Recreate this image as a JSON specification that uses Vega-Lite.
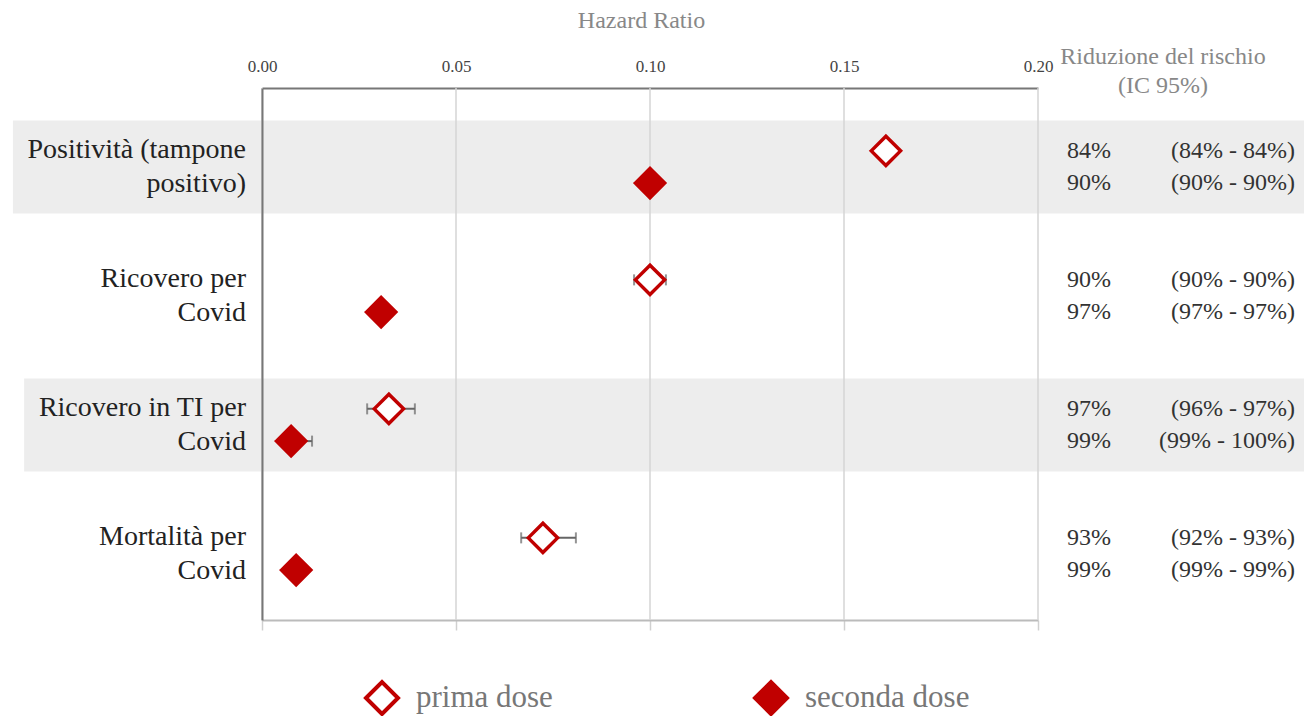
{
  "$schema": "https://vega.github.io/schema/vega-lite/v6.json",
  "width": 776,
  "height": 532,
  "autosize": {"type": "none"},
  "padding": {"left": 262, "top": 88, "right": 266, "bottom": 96},
  "config": {
    "view": {"stroke": null},
    "font": "Liberation Serif",
    "axisY": {"labels": false, "ticks": false, "grid": false, "domainColor": "#777777", "domainWidth": 2, "title": null}
  },
  "title": {
    "text": ["Riduzione del rischio", "(IC 95%)"],
    "anchor": "end",
    "align": "center",
    "frame": "group",
    "dx": 125,
    "dy": 94,
    "font": "Liberation Serif",
    "fontSize": 24,
    "fontWeight": "normal",
    "color": "#888888",
    "lineHeight": 29
  },
  "datasets": {
    "bands": [
      {"g": "A", "x0": -0.0642, "x1": 0.2686},
      {"g": "C", "x0": -0.0613, "x1": 0.2686}
    ],
    "grid": [{"v": 0}, {"v": 0.05}, {"v": 0.1}, {"v": 0.15}, {"v": 0.2}],
    "labels": [
      {"g": "A", "label": "Positività (tampone\npositivo)"},
      {"g": "B", "label": "Ricovero per\nCovid"},
      {"g": "C", "label": "Ricovero  in TI per\nCovid"},
      {"g": "D", "label": "Mortalità per\nCovid"}
    ],
    "points": [
      {"g": "A", "dose": "prima dose", "hr": 0.1608, "pct": "84%", "ci": "(84% - 84%)"},
      {"g": "A", "dose": "seconda dose", "hr": 0.1, "pct": "90%", "ci": "(90% - 90%)"},
      {"g": "B", "dose": "prima dose", "hr": 0.1, "pct": "90%", "ci": "(90% - 90%)"},
      {"g": "B", "dose": "seconda dose", "hr": 0.0307, "pct": "97%", "ci": "(97% - 97%)"},
      {"g": "C", "dose": "prima dose", "hr": 0.0327, "pct": "97%", "ci": "(96% - 97%)"},
      {"g": "C", "dose": "seconda dose", "hr": 0.0075, "pct": "99%", "ci": "(99% - 100%)"},
      {"g": "D", "dose": "prima dose", "hr": 0.0724, "pct": "93%", "ci": "(92% - 93%)"},
      {"g": "D", "dose": "seconda dose", "hr": 0.0088, "pct": "99%", "ci": "(99% - 99%)"}
    ],
    "err": [
      {"g": "B", "dose": "prima dose", "lo": 0.0959, "hi": 0.1041},
      {"g": "C", "dose": "prima dose", "lo": 0.0271, "hi": 0.0394},
      {"g": "C", "dose": "seconda dose", "lo": 0.0055, "hi": 0.0129},
      {"g": "D", "dose": "prima dose", "lo": 0.0668, "hi": 0.0809}
    ]
  },
  "resolve": {"axis": {"x": "independent"}},
  "layer": [
    {
      "data": {"name": "bands"},
      "mark": {"type": "rect", "color": "#ededed", "height": {"band": 0.72}},
      "encoding": {
        "x": {"field": "x0", "type": "quantitative", "scale": {"domain": [0, 0.2], "nice": false, "zero": false}, "axis": null},
        "x2": {"field": "x1"},
        "y": {"field": "g", "type": "nominal", "title": null, "scale": {"domain": ["A", "B", "C", "D"], "paddingInner": 0, "paddingOuter": 0.062, "align": 0.906}}
      }
    },
    {
      "data": {"name": "grid"},
      "mark": {"type": "rule", "color": "#d4d4d4", "strokeWidth": 1.5},
      "encoding": {
        "x": {"field": "v", "type": "quantitative", "axis": {"orient": "bottom", "labels": false, "title": null, "grid": false, "ticks": true, "tickSize": 10, "tickColor": "#d0d0d0", "tickWidth": 1.5, "domainColor": "#bbbbbb", "domainWidth": 2, "values": [0, 0.05, 0.1, 0.15, 0.2]}}
      }
    },
    {
      "data": {"name": "err"},
      "mark": {"type": "rule", "color": "#666666", "strokeWidth": 2},
      "encoding": {
        "x": {"field": "lo", "type": "quantitative", "axis": null},
        "x2": {"field": "hi"},
        "y": {"field": "g", "type": "nominal", "title": null},
        "yOffset": {"field": "dose", "type": "nominal", "scale": {"domain": ["prima dose", "seconda dose"], "paddingInner": 0, "paddingOuter": 1.016}}
      }
    },
    {
      "data": {"name": "err"},
      "mark": {"type": "tick", "orient": "vertical", "color": "#666666", "size": 11, "thickness": 2},
      "encoding": {
        "x": {"field": "lo", "type": "quantitative", "axis": null},
        "y": {"field": "g", "type": "nominal", "title": null},
        "yOffset": {"field": "dose", "type": "nominal"}
      }
    },
    {
      "data": {"name": "err"},
      "mark": {"type": "tick", "orient": "vertical", "color": "#666666", "size": 11, "thickness": 2},
      "encoding": {
        "x": {"field": "hi", "type": "quantitative", "axis": null},
        "y": {"field": "g", "type": "nominal", "title": null},
        "yOffset": {"field": "dose", "type": "nominal"}
      }
    },
    {
      "data": {"name": "points"},
      "mark": {"type": "point", "shape": "diamond", "size": 860, "filled": false, "stroke": "#C00000", "strokeWidth": 3.5, "opacity": 1, "fillOpacity": 1},
      "encoding": {
        "x": {
          "field": "hr", "type": "quantitative",
          "axis": {
            "orient": "top", "title": "Hazard Ratio", "values": [0, 0.05, 0.1, 0.15, 0.2], "format": ".2f",
            "ticks": false, "grid": false, "domainColor": "#777777", "domainWidth": 2,
            "labelFont": "Liberation Serif", "labelFontSize": 17, "labelColor": "#444444", "labelPadding": 13,
            "labelFlush": false, "labelOverlap": false,
            "titleFont": "Liberation Serif", "titleFontSize": 24, "titleFontWeight": "normal", "titleColor": "#888888", "titlePadding": 25,
            "titleX": 379, "titleAlign": "center"
          }
        },
        "y": {"field": "g", "type": "nominal", "title": null},
        "yOffset": {"field": "dose", "type": "nominal"},
        "fill": {
          "field": "dose", "type": "nominal",
          "scale": {"domain": ["prima dose", "seconda dose"], "range": ["#ffffff", "#C00000"]},
          "legend": {
            "orient": "none", "legendX": 102, "legendY": 592, "direction": "horizontal", "title": null,
            "symbolType": "diamond", "symbolSize": 1024, "symbolStrokeColor": "#C00000", "symbolStrokeWidth": 4,
            "labelFont": "Liberation Serif", "labelFontSize": 31, "labelColor": "#777777", "labelOffset": 16,
            "labelLimit": 400, "columnPadding": 194, "symbolOpacity": 1
          }
        }
      }
    },
    {
      "data": {"name": "labels"},
      "mark": {"type": "text", "align": "right", "baseline": "middle", "dx": -16, "dy": -17, "lineBreak": "\n", "lineHeight": 34, "fontSize": 28, "color": "#222222", "font": "Liberation Serif"},
      "encoding": {
        "x": {"datum": 0, "type": "quantitative", "axis": null},
        "y": {"field": "g", "type": "nominal", "title": null},
        "text": {"field": "label"}
      }
    },
    {
      "data": {"name": "points"},
      "mark": {"type": "text", "align": "left", "baseline": "middle", "dx": 29, "fontSize": 24, "color": "#333333", "font": "Liberation Serif"},
      "encoding": {
        "x": {"datum": 0.2, "type": "quantitative", "axis": null},
        "y": {"field": "g", "type": "nominal", "title": null},
        "yOffset": {"field": "dose", "type": "nominal"},
        "text": {"field": "pct"}
      }
    },
    {
      "data": {"name": "points"},
      "mark": {"type": "text", "align": "right", "baseline": "middle", "dx": 257, "fontSize": 24, "color": "#333333", "font": "Liberation Serif"},
      "encoding": {
        "x": {"datum": 0.2, "type": "quantitative", "axis": null},
        "y": {"field": "g", "type": "nominal", "title": null},
        "yOffset": {"field": "dose", "type": "nominal"},
        "text": {"field": "ci"}
      }
    }
  ]
}
